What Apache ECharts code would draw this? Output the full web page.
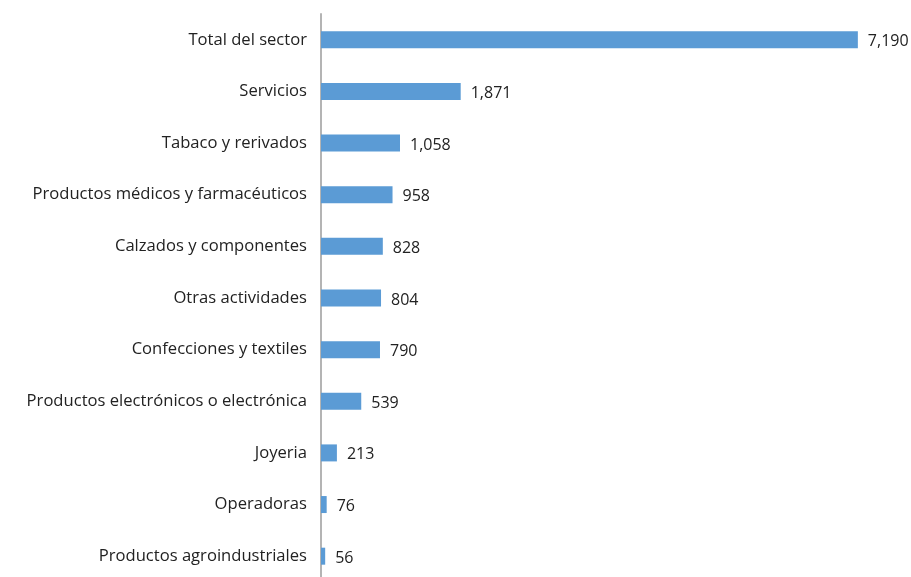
<!DOCTYPE html>
<html><head><meta charset="utf-8">
<script src="https://cdn.jsdelivr.net/npm/echarts@6/dist/echarts.min.js"></script>
<style>html,body{margin:0;padding:0;background:#fff;overflow:hidden}#c{width:911px;height:590px}</style>
</head><body><div id="c"></div>
<script>
const categories = ["Total del sector","Servicios","Tabaco y rerivados","Productos médicos y farmacéuticos","Calzados y componentes","Otras actividades","Confecciones y textiles","Productos electrónicos o electrónica","Joyeria","Operadoras","Productos agroindustriales"];
const values = [7190,1871,1058,958,828,804,790,539,213,76,56];

const chart = echarts.init(document.getElementById('c'));
chart.setOption({
  animation:false,
  grid:{left:321,right:30,top:14,height:568,containLabel:false},
  xAxis:{type:'value',min:0,max:7500,show:false},
  yAxis:{type:'category',inverse:true,data:categories,
    axisLine:{show:true,lineStyle:{color:'#b4b4b4',width:2}},
    axisTick:{show:false},
    axisLabel:{color:'#222',fontSize:16.6,fontFamily:'Open Sans',margin:14}},
  series:[{type:'bar',data:values,barWidth:17,
    itemStyle:{color:'#5b9bd5'},
    label:{show:true,position:'right',distance:10,color:'#222',fontSize:16,fontFamily:'Open Sans',
      formatter:p=>p.value.toLocaleString('en-US'),offset:[0,2]}}]
});
</script></body></html>
